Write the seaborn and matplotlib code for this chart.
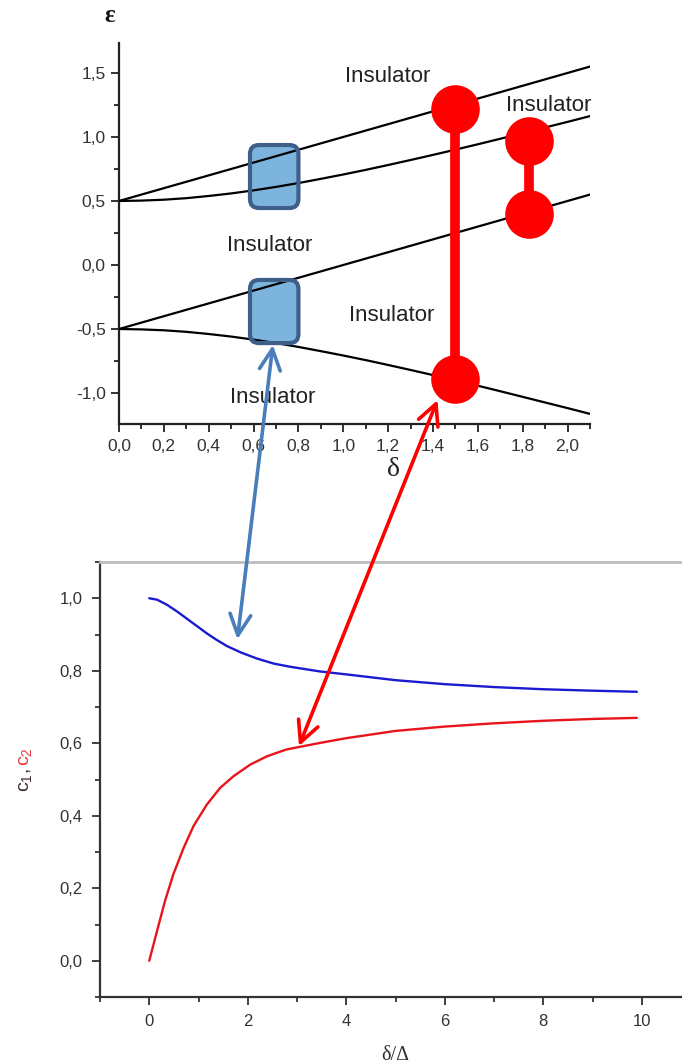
import numpy as np
import pandas as pd
import matplotlib
matplotlib.use("Agg")
import matplotlib.pyplot as plt
import seaborn as sns
from matplotlib.patches import FancyBboxPatch, ConnectionPatch, ArrowStyle
from matplotlib.ticker import MultipleLocator, FuncFormatter

# ---------------- data: top panel (energy levels) ----------------
delta = [0.0, 0.1, 0.2, 0.3, 0.4, 0.5, 0.6, 0.7, 0.8, 0.9, 1.0,
         1.1, 1.2, 1.3, 1.4, 1.5, 1.6, 1.7, 1.8, 1.9, 2.0, 2.1]
eps_upper = [0.50, 0.55, 0.60, 0.65, 0.70, 0.75, 0.80, 0.85, 0.90, 0.95, 1.00,
             1.05, 1.10, 1.15, 1.20, 1.25, 1.30, 1.35, 1.40, 1.45, 1.50, 1.55]
eps_mid_up = [0.500, 0.503, 0.510, 0.522, 0.539, 0.559, 0.583, 0.610, 0.640, 0.673, 0.707,
              0.743, 0.781, 0.820, 0.860, 0.901, 0.943, 0.986, 1.030, 1.074, 1.118, 1.163]
eps_mid_low = [-0.50, -0.45, -0.40, -0.35, -0.30, -0.25, -0.20, -0.15, -0.10, -0.05, 0.00,
               0.05, 0.10, 0.15, 0.20, 0.25, 0.30, 0.35, 0.40, 0.45, 0.50, 0.55]
eps_lower = [-0.500, -0.503, -0.510, -0.522, -0.539, -0.559, -0.583, -0.610, -0.640, -0.673, -0.707,
             -0.743, -0.781, -0.820, -0.860, -0.901, -0.943, -0.986, -1.030, -1.074, -1.118, -1.163]

region_label = "Insulator"
label_delta = [1.20, 1.915, 0.672, 1.214, 0.685]
label_eps = [1.432, 1.203, 0.110, -0.437, -1.080]

# highlighted boxes (delta range, eps range)
box_delta = [0.584, 0.800]
box_eps_upper = [0.445, 0.937]
box_eps_lower = [-0.610, -0.117]

# red transitions (delta, eps of the two ends)
trans_big = [1.50, 1.22, -0.89]
trans_small = [1.83, 0.97, 0.40]

# ---------------- data: bottom panel (coefficients) ----------------
ratio_c1 = [0.0, 0.16, 0.36, 0.56, 0.76, 0.97, 1.17, 1.37, 1.58, 1.85, 2.18, 2.52, 2.86, 3.47,
            4.0, 5.0, 6.0, 7.0, 8.0, 9.0, 9.9]
c1 = [1.000, 0.996, 0.982, 0.964, 0.944, 0.923, 0.903, 0.885, 0.868, 0.851, 0.834, 0.820, 0.811, 0.798,
      0.790, 0.774, 0.763, 0.755, 0.749, 0.745, 0.742]
ratio_c2 = [0.0, 0.16, 0.32, 0.49, 0.70, 0.90, 1.17, 1.44, 1.71, 2.05, 2.39, 2.79, 3.47,
            4.0, 5.0, 6.0, 7.0, 8.0, 9.0, 9.9]
c2 = [0.000, 0.083, 0.165, 0.239, 0.312, 0.372, 0.431, 0.477, 0.509, 0.541, 0.564, 0.583, 0.601,
      0.614, 0.634, 0.646, 0.655, 0.662, 0.667, 0.670]

# arrows linking the panels: (top panel point) -> (bottom panel point)
blue_arrow = [(0.686, -0.625), (1.79, 0.887)]
red_arrow = [(1.42, -1.055), (3.04, 0.592)]

# ---------------- style ----------------
sns.set_style("ticks")
plt.rcParams["font.family"] = ["Liberation Sans", "DejaVu Sans"]
plt.rcParams["mathtext.fontset"] = "custom"
plt.rcParams["mathtext.rm"] = "Liberation Sans"
plt.rcParams["mathtext.it"] = "Liberation Sans:italic"

W, H = 682, 1064
fig = plt.figure(figsize=(W / 100, H / 100), dpi=100)
fig.patch.set_facecolor("white")

ax1 = fig.add_axes([119 / W, 1 - 424 / H, 471 / W, 381 / H])
ax2 = fig.add_axes([100 / W, 1 - 997 / H, 591 / W, 435 / H])

comma = FuncFormatter(lambda v, p: f"{v:.1f}".replace(".", ","))
tick_col = "#333333"

# ---------------- top panel ----------------
top_df = pd.DataFrame({
    "delta": delta * 4,
    "eps": eps_upper + eps_mid_up + eps_mid_low + eps_lower,
    "band": ["a"] * len(delta) + ["b"] * len(delta) + ["c"] * len(delta) + ["d"] * len(delta),
})
sns.lineplot(data=top_df, x="delta", y="eps", units="band", estimator=None,
             color="black", lw=1.6, ax=ax1, zorder=3, sort=False)

for ey in (box_eps_upper, box_eps_lower):
    kw = dict(boxstyle="round,pad=0,rounding_size=0.04", mutation_aspect=224.5 / 128)
    ax1.add_patch(FancyBboxPatch((box_delta[0], ey[0]), box_delta[1] - box_delta[0], ey[1] - ey[0],
                                 facecolor="#7db4de", edgecolor="none", zorder=2, **kw))
    ax1.add_patch(FancyBboxPatch((box_delta[0], ey[0]), box_delta[1] - box_delta[0], ey[1] - ey[0],
                                 facecolor="none", edgecolor="#3d5f8a", lw=3, zorder=4, **kw))

for t in (trans_big, trans_small):
    ax1.plot([t[0], t[0]], [t[1], t[2]], color="#ff0000", lw=7, solid_capstyle="butt", zorder=5)
    ax1.plot([t[0], t[0]], [t[1], t[2]], "o", color="#ff0000", ms=35, mec="none", zorder=6,
             clip_on=False)

for lx, ly in zip(label_delta, label_eps):
    ax1.text(lx, ly, region_label, ha="center", va="baseline", fontsize=16, color="#222222", zorder=7)

ax1.set_xlim(0, 2.1)
ax1.set_ylim(-1.242, 1.734)
ax1.xaxis.set_major_locator(MultipleLocator(0.2))
ax1.xaxis.set_minor_locator(MultipleLocator(0.1))
ax1.yaxis.set_major_locator(MultipleLocator(0.5))
ax1.yaxis.set_minor_locator(MultipleLocator(0.25))
ax1.xaxis.set_major_formatter(comma)
ax1.yaxis.set_major_formatter(comma)
ax1.tick_params(axis="both", which="major", length=6, width=1.3, color="#222222",
                labelsize=12.5, labelcolor=tick_col)
ax1.tick_params(axis="x", which="major", pad=5)
ax1.tick_params(axis="y", which="major", pad=3.5)
ax1.tick_params(axis="both", which="minor", length=3.5, width=1.3, color="#222222")
for s in ("top", "right"):
    ax1.spines[s].set_visible(False)
for s in ("left", "bottom"):
    ax1.spines[s].set_linewidth(1.6)
    ax1.spines[s].set_color("#222222")
ax1.set_xlabel("δ", family=["Liberation Serif", "DejaVu Serif"], fontsize=20, va="center")
ax1.xaxis.set_label_coords((393 - 119) / 471, (424 - 470) / 381)
ax1.set_ylabel("")
ax1.patch.set_alpha(0)
fig.text(110 / W, 1 - 16 / H, "ε", family=["Liberation Serif", "DejaVu Serif"],
         fontsize=18, fontweight="bold", ha="center", va="center", color="#111111")

# ---------------- bottom panel ----------------
bot_df = pd.DataFrame({
    "ratio": ratio_c1 + ratio_c2,
    "c": c1 + c2,
    "coef": ["c1"] * len(ratio_c1) + ["c2"] * len(ratio_c2),
})
sns.lineplot(data=bot_df, x="ratio", y="c", hue="coef", palette={"c1": "#1a1ad0", "c2": "#e8141c"},
             lw=1.7, ax=ax2, legend=False, sort=False)

ax2.set_xlim(-1, 11)
ax2.set_ylim(-0.1, 1.1)
ax2.xaxis.set_major_locator(MultipleLocator(2))
ax2.xaxis.set_minor_locator(MultipleLocator(1))
ax2.yaxis.set_major_locator(MultipleLocator(0.2))
ax2.yaxis.set_minor_locator(MultipleLocator(0.1))
ax2.yaxis.set_major_formatter(comma)
ax2.xaxis.set_major_formatter(FuncFormatter(lambda v, p: f"{v:.0f}"))
ax2.tick_params(axis="both", which="major", length=6, width=1.3, color="#333333",
                labelsize=12, labelcolor=tick_col, pad=6.5)
ax2.tick_params(axis="both", which="minor", length=3.5, width=1.3, color="#333333")
ax2.spines["right"].set_visible(False)
ax2.spines["top"].set_color("#bdbdbd")
ax2.spines["top"].set_linewidth(2)
for s in ("left", "bottom"):
    ax2.spines[s].set_linewidth(1.6)
    ax2.spines[s].set_color("#333333")
ax2.set_xlabel("δ/Δ", family=["Liberation Serif", "DejaVu Serif"], fontsize=14.5,
               color="#333333", va="center")
ax2.xaxis.set_label_coords((395 - 100) / 591, (997 - 1055) / 435)
ax2.set_ylabel("")

t1 = fig.text(25 / W, 1 - 779 / H, "c$_1$, ", rotation=90, ha="center", va="center",
              fontsize=14, color="#3a2a2a")
ax2.annotate("c$_2$", xy=(0.5, 1.0), xycoords=t1, rotation=90, ha="center", va="bottom",
             fontsize=14, color="#e8383d", annotation_clip=False)

# ---------------- linking arrows ----------------
for arr, col in ((blue_arrow, "#4a7ebb"), (red_arrow, "#ff0000")):
    con = ConnectionPatch(xyA=arr[0], coordsA=ax1.transData, xyB=arr[1], coordsB=ax2.transData,
                          arrowstyle=ArrowStyle("<->", head_length=1.5, head_width=0.75),
                          mutation_scale=10, color=col, lw=2.6, shrinkA=0, shrinkB=0, zorder=10)
    fig.add_artist(con)

fig.savefig("out.png", dpi=100)
